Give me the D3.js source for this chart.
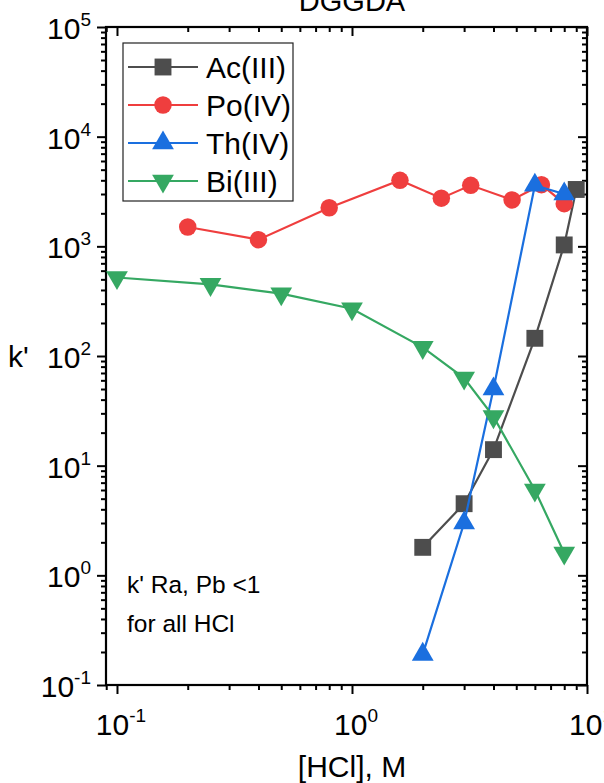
<!DOCTYPE html>
<html>
<head>
<meta charset="utf-8">
<script src="https://cdn.jsdelivr.net/npm/d3@7"></script>
<style>
  html, body { margin: 0; padding: 0; background: #fff; }
  svg { display: block; font-family: "Liberation Sans", Arial, sans-serif; }
</style>
</head>
<body>
<svg id="chart" width="604" height="783"></svg>
<script>
// HCl concentration (M) and capacity factor k' for each element
const acHCl = [2, 3, 4, 6, 8, 9];
const acK   = [1.8, 4.5, 14, 145, 1030, 3300];

const poHCl = [0.2, 0.4, 0.8, 1.6, 2.4, 3.2, 4.8, 6.4, 8];
const poK   = [1500, 1150, 2250, 4000, 2750, 3600, 2650, 3650, 2450];

const thHCl = [2, 3, 4, 6, 8];
const thK   = [0.19, 3.0, 50, 3600, 3000];

const biHCl = [0.1, 0.25, 0.5, 1, 2, 3, 4, 6, 8];
const biK   = [520, 450, 370, 270, 120, 63, 28, 6, 1.6];

const seriesNames = ["Ac(III)", "Po(IV)", "Th(IV)", "Bi(III)"];
const xTickValues = [0.1, 1, 10];
const xTickExps   = ["-1", "0", "1"];
const yTickValues = [0.1, 1, 10, 100, 1000, 10000, 100000];
const yTickExps   = ["-1", "0", "1", "2", "3", "4", "5"];

const series = [
  { name: seriesNames[0], x: acHCl, y: acK, color: "#4d4d4d", symbol: d3.symbolSquare, size: 285, rot: 0 },
  { name: seriesNames[1], x: poHCl, y: poK, color: "#ef3e3e", symbol: d3.symbolCircle, size: 240, rot: 0 },
  { name: seriesNames[2], x: thHCl, y: thK, color: "#1a6fdf", symbol: d3.symbolTriangle, size: 205, rot: 0 },
  { name: seriesNames[3], x: biHCl, y: biK, color: "#35a862", symbol: d3.symbolTriangle, size: 205, rot: 180 }
];

const svg = d3.select("#chart");
const plot = { left: 106, right: 587, top: 27, bottom: 685 };

const x = d3.scaleLog().domain([0.0898, 10]).range([plot.left, plot.right]);
const y = d3.scaleLog().domain([0.1, 100000]).range([plot.bottom, plot.top]);

// title (sits partly above the page edge)
svg.append("text")
  .attr("x", 352).attr("y", 11)
  .attr("text-anchor", "middle")
  .attr("font-size", 29)
  .text("DGGDA");

// minor tick values for each decade
function minorTicks(scale) {
  const [a, b] = scale.domain();
  const out = [];
  for (let e = Math.floor(Math.log10(a)); e <= Math.ceil(Math.log10(b)); e++) {
    for (let m = 2; m <= 9; m++) {
      const v = m * Math.pow(10, e);
      if (v >= a && v <= b) out.push(v);
    }
  }
  return out;
}

const axisG = svg.append("g");
const majorLen = 9, minorLen = 5;

function drawAxis(axisGen, transform, values, len) {
  const g = axisG.append("g").attr("transform", transform)
    .call(axisGen.tickValues(values).tickSize(len).tickFormat(""));
  g.select(".domain").remove();
  g.selectAll(".tick line").attr("stroke", "#000").attr("stroke-width", 2);
  return g;
}

// bottom & left: ticks outward; top & right: ticks inward
drawAxis(d3.axisBottom(x), `translate(0,${plot.bottom})`, xTickValues, majorLen);
drawAxis(d3.axisBottom(x), `translate(0,${plot.bottom})`, minorTicks(x), minorLen);
drawAxis(d3.axisBottom(x), `translate(0,${plot.top})`, xTickValues, majorLen);
drawAxis(d3.axisBottom(x), `translate(0,${plot.top})`, minorTicks(x), minorLen);
drawAxis(d3.axisLeft(y), `translate(${plot.left},0)`, yTickValues, majorLen);
drawAxis(d3.axisLeft(y), `translate(${plot.left},0)`, minorTicks(y), minorLen);
drawAxis(d3.axisLeft(y), `translate(${plot.right},0)`, yTickValues, majorLen)
  .selectAll(".tick line").attr("x2", -majorLen);
drawAxis(d3.axisLeft(y), `translate(${plot.right},0)`, minorTicks(y), minorLen)
  .selectAll(".tick line").attr("x2", -minorLen);

// frame
svg.append("rect")
  .attr("x", plot.left).attr("y", plot.top)
  .attr("width", plot.right - plot.left).attr("height", plot.bottom - plot.top)
  .attr("fill", "none").attr("stroke", "#000").attr("stroke-width", 2.2);

// tick labels with superscript exponents
xTickValues.forEach((v, i) => {
  const t = svg.append("text")
    .attr("x", x(v) + 4).attr("y", plot.bottom + 50)
    .attr("text-anchor", "middle").attr("font-size", 30);
  t.append("tspan").text("10");
  t.append("tspan").attr("dy", -13).attr("font-size", 19).text(xTickExps[i]);
});
yTickValues.forEach((v, i) => {
  const t = svg.append("text")
    .attr("x", plot.left - 15).attr("y", y(v) + 12)
    .attr("text-anchor", "end").attr("font-size", 30);
  t.append("tspan").text("10");
  t.append("tspan").attr("dy", -13).attr("font-size", 19).text(yTickExps[i]);
});

// axis titles
svg.append("text")
  .attr("x", 352).attr("y", 777)
  .attr("text-anchor", "middle").attr("font-size", 30)
  .text("[HCl], M");
svg.append("text")
  .attr("x", 8).attr("y", 367)
  .attr("font-size", 30)
  .text("k'");

// series lines and markers
const line = d3.line().x(d => x(d[0])).y(d => y(d[1]));
const symbolPath = (s) => d3.symbol().type(s.symbol).size(s.size)();

series.forEach(s => {
  const pts = s.x.map((v, i) => [v, s.y[i]]);
  svg.append("path")
    .attr("d", line(pts))
    .attr("fill", "none").attr("stroke", s.color).attr("stroke-width", 2.2);
  svg.append("g").selectAll("path").data(pts).join("path")
    .attr("d", symbolPath(s))
    .attr("transform", d => `translate(${x(d[0])},${y(d[1])}) rotate(${s.rot})`)
    .attr("fill", s.color);
});

// legend
const leg = svg.append("g");
leg.append("rect")
  .attr("x", 123).attr("y", 43).attr("width", 170).attr("height", 158)
  .attr("fill", "#fff").attr("stroke", "#222").attr("stroke-width", 1.2);
series.forEach((s, i) => {
  const cy = 67 + i * 38;
  leg.append("line")
    .attr("x1", 128).attr("x2", 198).attr("y1", cy).attr("y2", cy)
    .attr("stroke", s.color).attr("stroke-width", 2.2);
  leg.append("path")
    .attr("d", symbolPath(s))
    .attr("transform", `translate(163,${cy}) rotate(${s.rot})`)
    .attr("fill", s.color);
  leg.append("text")
    .attr("x", 206).attr("y", cy + 11)
    .attr("font-size", 30)
    .text(s.name);
});

// note
svg.append("text").attr("x", 127).attr("y", 593).attr("font-size", 24.5).text("k' Ra, Pb <1");
svg.append("text").attr("x", 127).attr("y", 632).attr("font-size", 24.5).text("for all HCl");
</script>
</body>
</html>
